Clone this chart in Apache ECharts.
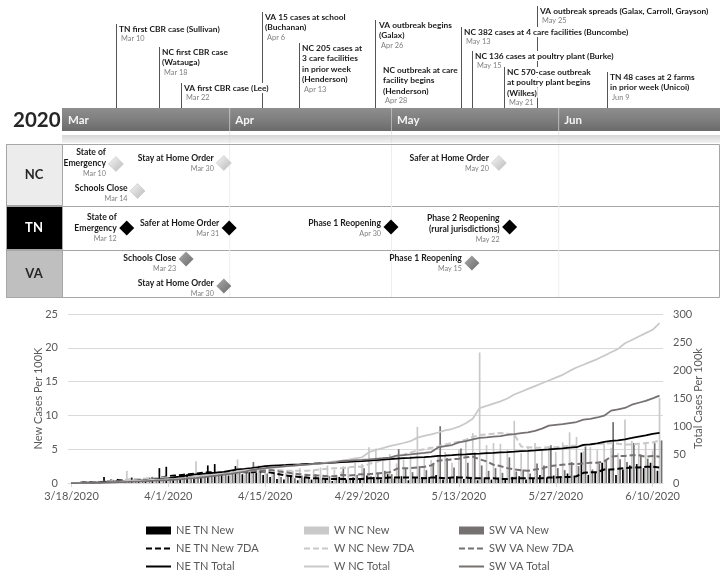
<!DOCTYPE html>
<html><head><meta charset="utf-8">
<script src="https://cdn.jsdelivr.net/npm/echarts@6/dist/echarts.min.js"></script>
<style>html,body{margin:0;padding:0;background:#fff}#c{width:728px;height:578px}</style>
</head><body><div id="c"></div>
<script>
// ---------------- DATA ----------------
const firstDay = '2020-03-18';
const dayCount = 86; // 3/18/2020 .. 6/11/2020

const neTnNew = [0,0.1,0.3,0,0.2,0.9,0.5,0.6,0.3,0.8,0.7,0.6,0.9,2.2,
  2.4,1.0,1.2,1.3,0.9,1.2,2.6,2.8,1.4,1.1,2.5,1.3,1.6,1.5,
  1.2,0.9,0.6,0.5,0.9,0.4,0.8,0.5,0.7,0.6,0.3,0.9,0.5,0.8,
  0.6,1.1,0.9,0.5,1.3,0.7,1.0,0.4,0.8,0.6,0.9,1.2,0.5,0.8,
  1.0,0.6,0.9,0.4,0.7,0.5,0.8,0.6,0.9,1.0,0.5,0.7,1.2,0.8,
  1.1,0.9,1.4,1.0,4.5,1.2,1.6,3.0,2.0,1.2,2.0,2.6,2.8,2.2,3.0,1.8];
const wNcNew = [0,0,0.1,0.2,0.3,0.4,0.5,0.3,1.8,0.6,0.4,0.7,0.9,0.5,
  0.8,0.6,1.0,0.7,3.2,1.1,0.9,1.3,1.6,1.4,3.5,1.2,1.5,2.6,
  1.6,1.3,2.0,1.5,1.8,2.2,1.4,1.9,2.3,2.6,2.0,1.7,2.4,3.0,
  2.8,5.3,5.1,3.6,4.3,2.9,3.5,4.0,8.3,3.8,3.4,4.1,4.6,3.0,
  5.0,6.1,7.4,19.3,5.6,5.9,5.8,4.9,9.2,4.4,5.2,5.9,4.8,5.4,
  4.6,6.0,7.5,6.8,4.7,5.3,4.9,5.9,5.2,4.4,9.4,6.2,5.6,5.9,4.8,12.6];
const swVaNew = [0,0,0,0.1,0.2,0.3,0.2,0.5,0.4,0.6,0.3,0.8,0.5,0.7,
  0.6,0.9,0.7,1.1,0.8,1.3,1.6,1.2,1.8,1.5,2.0,1.7,3.1,1.9,
  1.4,1.6,0.9,1.2,0.7,1.1,0.8,1.3,0.6,1.0,0.9,2.4,0.7,1.2,
  2.2,1.0,1.5,1.8,1.3,5.0,2.1,1.6,2.5,1.9,2.8,8.4,3.7,2.3,
  5.1,3.0,4.5,2.6,1.8,2.2,1.5,3.8,1.7,2.0,1.4,2.9,2.6,5.6,
  2.2,1.9,3.1,2.5,5.4,2.0,2.9,3.4,9.0,3.5,3.1,5.9,4.2,3.6,5.9,6.3];
const neTn7da = [0,0,0.1,0.1,0.1,0.2,0.3,0.4,0.4,0.5,0.5,0.6,0.6,0.8,
  1.0,1.1,1.2,1.3,1.4,1.5,1.6,1.5,1.5,1.6,1.7,1.6,1.6,1.7,
  1.7,1.5,1.3,1.1,1.0,0.9,0.8,0.7,0.7,0.6,0.6,0.6,0.6,0.6,
  0.6,0.7,0.7,0.7,0.8,0.8,0.8,0.8,0.8,0.7,0.8,0.8,0.7,0.8,
  0.8,0.8,0.7,0.7,0.7,0.7,0.6,0.6,0.7,0.7,0.7,0.7,0.7,0.8,
  0.8,0.9,0.9,1.0,1.5,1.6,1.6,2.0,2.0,2.1,2.2,2.3,2.3,2.4,2.4,2.3];
const wNc7da = [0,0,0.1,0.1,0.2,0.2,0.3,0.3,0.5,0.6,0.6,0.7,0.7,0.8,
  0.8,0.8,0.9,0.8,1.1,1.2,1.2,1.3,1.3,1.4,1.7,1.7,1.8,1.9,
  1.8,1.9,1.9,1.8,1.8,1.8,1.8,1.9,2.0,2.1,2.2,2.2,2.3,2.4,
  2.4,2.8,3.1,3.4,3.7,3.9,4.2,4.5,4.8,5.0,5.2,5.4,5.7,5.9,
  6.1,6.4,6.8,7.1,7.2,7.3,7.4,7.3,7.2,5.4,5.3,5.2,5.2,5.3,
  5.3,5.4,5.5,5.5,5.6,5.7,5.8,5.8,5.9,5.8,5.7,5.7,5.8,5.9,6.0,6.3];
const swVa7da = [0,0,0,0.1,0.1,0.1,0.2,0.2,0.3,0.3,0.4,0.4,0.5,0.5,
  0.6,0.7,0.7,0.8,0.9,1.0,1.1,1.2,1.3,1.5,1.6,1.7,1.8,1.9,
  1.9,1.9,1.7,1.6,1.4,1.3,1.2,1.1,1.1,1.0,1.0,1.2,1.1,1.2,
  1.3,1.3,1.4,1.5,1.6,2.1,2.2,2.2,2.3,2.4,2.6,3.3,3.4,3.5,
  3.6,3.8,3.9,3.5,3.2,2.7,2.5,2.2,2.0,1.9,1.8,2.0,2.1,2.5,
  2.6,2.7,2.8,2.8,2.9,3.0,3.0,3.2,3.9,4.0,4.0,4.1,4.1,3.9,4.0,3.9];
const neTnTotal = [0.2,0.3,0.7,0.7,0.9,1.8,2.3,2.9,3.2,3.9,4.7,5.3,6.3,7.2,
  8.2,10.5,11.6,13.9,15.1,16.2,17.5,18.4,19.7,22.1,24.2,25.0,26.4,28.0,
  29.8,30.9,31.5,32.0,32.8,33.2,34.0,34.5,35.2,35.8,36.1,36.9,37.4,38.2,
  38.8,39.9,40.8,41.3,42.5,43.2,44.2,44.6,45.4,46.0,46.9,48.1,48.6,49.4,
  50.4,51.0,51.8,52.2,52.9,53.4,54.2,54.8,55.6,56.5,57.0,57.7,58.8,59.5,
  60.5,61.3,62.6,63.5,67.6,68.7,70.2,72.9,74.7,75.8,77.6,80.0,82.5,84.5,87.2,88.8];
const wNcTotal = [0.1,0.2,0.3,0.5,0.8,1.2,1.7,2.0,3.6,4.1,4.5,5.1,5.9,6.3,
  7.0,7.5,8.4,9.0,12.1,13.1,13.9,15.1,16.5,17.8,21.2,22.3,23.7,24.8,
  26.0,27.0,28.2,29.3,30.5,31.6,32.4,33.5,35.0,36.6,38.2,39.6,41.5,43.8,
  45.6,54.5,58.8,62.0,65.6,68.0,71.0,74.2,80.5,83.6,86.3,89.6,93.4,95.8,
  100,106,114,133,137,141,145,150,157,162,167,172,177,182,
  187,192,199,205,210,215,220,226,232,238,248,254,260,266,272,284];
const swVaTotal = [0,0,0.1,0.2,0.4,0.7,0.9,1.4,1.8,2.4,2.7,3.5,4.0,4.7,
  5.3,6.2,6.9,8.0,8.8,10.1,11.7,12.9,14.7,16.2,18.2,19.9,23.0,24.9,
  26.3,27.9,28.8,30.0,30.7,31.8,32.6,33.9,34.5,35.5,36.4,38.8,39.5,40.7,
  41.0,41.8,42.9,44.0,45.2,48.5,49.6,50.8,52.3,53.6,55.0,63.2,65.5,67.4,
  72.0,74.2,77.5,80.0,81.0,82.3,83.4,85.6,86.8,88.4,89.7,92.6,96.5,101.8,
  103.2,104.5,106.4,108.2,112.5,114.0,116.3,119.5,128.5,130.8,133.2,139.0,142.5,145.7,150.3,155.0];

const leftTicks = {min:0, max:25, step:5};
const rightTicks = {min:0, max:300, step:50};

const timelineMonths = [['2020-03-01','2020-04-01','Mar'],['2020-04-01','2020-05-01','Apr'],
  ['2020-05-01','2020-06-01','May'],['2020-06-01','2020-07-01','Jun']];
const timelineYear = '2020';

// events above the timeline: position date, title lines, date label
const eventAt = ['2020-03-10','2020-03-18','2020-03-22','2020-04-06','2020-04-13','2020-04-27','2020-04-27',
  '2020-05-13','2020-05-15','2020-05-21','2020-05-27','2020-06-09'];
const eventTitles = [['TN first CBR case (Sullivan)'],['NC first CBR case','(Watauga)'],['VA first CBR case (Lee)'],
  ['VA 15 cases at school','(Buchanan)'],['NC 205 cases at','3 care facilities','in prior week','(Henderson)'],
  ['VA outbreak begins','(Galax)'],['NC outbreak at care','facility begins','(Henderson)'],
  ['NC 382 cases at 4 care facilities (Buncombe)'],['NC 136 cases at poultry plant (Burke)'],
  ['NC 570-case outbreak','at poultry plant begins','(Wilkes)'],['VA outbreak spreads (Galax, Carroll, Grayson)'],
  ['TN 48 cases at 2 farms','in prior week (Unicoi)']];
const eventLabels = ['Mar 10','Mar 18','Mar 22','Apr 6','Apr 13','Apr 26','Apr 28','May 13','May 15','May 21','May 25','Jun 9'];

// state milestones
const stateNames = ['NC','TN','VA'];
const msState = ['NC','NC','NC','NC','TN','TN','TN','TN','VA','VA','VA'];
const msAt = ['2020-03-10','2020-03-14','2020-03-30','2020-05-20','2020-03-12','2020-03-31','2020-04-30','2020-05-22',
  '2020-03-23','2020-03-30','2020-05-15'];
const msTitles = [['State of','Emergency'],['Schools Close'],['Stay at Home Order'],['Safer at Home Order'],
  ['State of','Emergency'],['Safer at Home Order'],['Phase 1 Reopening'],['Phase 2 Reopening','(rural jurisdictions)'],
  ['Schools Close'],['Stay at Home Order'],['Phase 1 Reopening']];
const msLabels = ['Mar 10','Mar 14','Mar 30','May 20','Mar 12','Mar 31','Apr 30','May 22','Mar 23','Mar 30','May 15'];

// ---------------- LAYOUT (pixels, not data) ----------------
const L = {
  tlLeft: 62, tlWidth: 658, barTop: 108, barH: 23, bandTop: 135, bandH: 8,
  rowsTop: 144, rowsBottom: 298, rowsLeft: 6, rowsRight: 720,
  rowTop: {NC:144, TN:206, VA:250}, rowBottom: {NC:206, TN:250, VA:298},
  eventY: [29,52,88,17,48,25,70,32,56,72,11,77],
  eventLine: [1,1,1,1,1,1,0,1,1,1,1,1],
  eventIndent: [3,3,3,3,3,4,8,3,3,3,3,3],
  msY: [164,191,163,163,228,228,227,227,259,286,263],
  msTextY: [152,188,158,158,217,223,223,218,258,283,258]
};
const FONT = 'Lato';

// ---------------- HELPERS ----------------
const DAY = 86400000;
const ts = s => { const p = s.split('-').map(Number); return Date.UTC(p[0], p[1]-1, p[2]); };
const endOfDay = s => ts(s) + DAY;
const days = [];
for (let i = 0; i < dayCount; i++) {
  const d = new Date(ts(firstDay) + i*DAY);
  days.push((d.getUTCMonth()+1) + '/' + d.getUTCDate() + '/' + d.getUTCFullYear());
}

const stateFill = {
  NC: () => new echarts.graphic.LinearGradient(0,0,1,1,[{offset:0,color:'#f7f7f7'},{offset:1,color:'#b8b8b8'}]),
  TN: () => '#000',
  VA: () => new echarts.graphic.LinearGradient(0,0,1,1,[{offset:0,color:'#ababab'},{offset:1,color:'#6a6a6a'}])
};
const cellFill = {NC:'#ececec', TN:'#000000', VA:'#bfbfbf'};
const cellText = {NC:'#262626', TN:'#ffffff', VA:'#262626'};

// ---------------- GRAPHIC (frame decoration) ----------------
const graphics = [];
graphics.push({type:'text', z:0, style:{x:13, y:120, text:timelineYear, fill:'#262626', font:'bold 20.5px ' + FONT, verticalAlign:'middle'}});
graphics.push({type:'rect', z:0, shape:{x:L.rowsLeft+0.5, y:L.rowsTop+0.5, width:L.rowsRight-L.rowsLeft-1, height:L.rowsBottom-L.rowsTop-1},
  style:{fill:'#fff', stroke:'#a6a6a6', lineWidth:1}});
stateNames.forEach(s => {
  const t = L.rowTop[s], b = L.rowBottom[s];
  graphics.push({type:'rect', z:0, shape:{x:L.rowsLeft+0.5, y:t+0.5, width:L.tlLeft-L.rowsLeft, height:b-t-1},
    style:{fill:cellFill[s], stroke:'#a6a6a6', lineWidth:1}});
  graphics.push({type:'text', z:1, style:{x:(L.rowsLeft+L.tlLeft)/2, y:(t+b)/2, text:s, fill:cellText[s],
    font:'bold 13px ' + FONT, align:'center', verticalAlign:'middle'}});
  if (s !== 'NC') graphics.push({type:'line', z:0, shape:{x1:L.rowsLeft, y1:t+0.5, x2:L.rowsRight, y2:t+0.5}, style:{stroke:'#a6a6a6', lineWidth:1}});
});

// ---------------- SERIES ----------------
const monthSeries = {
  type:'custom', xAxisIndex:0, yAxisIndex:0, silent:true, z:2,
  data: timelineMonths.map(m => [ts(m[0]), ts(m[1]), m[2]]),
  renderItem: (params, api) => {
    const m = timelineMonths[params.dataIndex];
    const s = api.coord([ts(m[0]), 0])[0];
    const e = api.coord([ts(m[1]), 0])[0];
    const ch = [
      {type:'rect', shape:{x:s, y:L.barTop, width:e-s, height:L.barH},
        style:{fill:new echarts.graphic.LinearGradient(0,0,0,1,[{offset:0,color:'#8e8e8e'},{offset:0.6,color:'#7b7b7b'},{offset:1,color:'#6a6a6a'}])}},
      {type:'rect', shape:{x:s, y:L.bandTop, width:e-s, height:L.bandH},
        style:{fill:new echarts.graphic.LinearGradient(0,0,0,1,[{offset:0,color:'#d6d6d6'},{offset:1,color:'#f2f2f2'}])}},
      {type:'text', style:{x:s+6, y:L.barTop+L.barH/2+1, text:m[2], fill:'#f4f4f4', font:'bold 11.5px ' + FONT, verticalAlign:'middle'}}
    ];
    if (params.dataIndex > 0) {
      ch.push({type:'line', shape:{x1:s+0.5, y1:L.barTop, x2:s+0.5, y2:L.bandTop+L.bandH}, style:{stroke:'rgba(215,215,215,0.6)', lineWidth:1}});
      ch.push({type:'line', shape:{x1:s+0.5, y1:L.rowsTop+1, x2:s+0.5, y2:L.rowsBottom-1}, style:{stroke:'#eeeeee', lineWidth:1}});
    }
    return {type:'group', children:ch};
  }
};

const eventLineSeries = {
  type:'custom', xAxisIndex:0, yAxisIndex:0, silent:true, z:2,
  data: eventAt.map((d,i) => [endOfDay(d), L.eventY[i]]),
  renderItem: (params, api) => {
    const i = params.dataIndex;
    if (!L.eventLine[i]) return {type:'group', children:[]};
    const p = api.coord([api.value(0), api.value(1)]);
    const x = Math.round(p[0]) + 0.5;
    return {type:'line', shape:{x1:x, y1:p[1]-5, x2:x, y2:L.barTop}, style:{stroke:'#555', lineWidth:1}};
  }
};

const eventTextSeries = {
  type:'custom', xAxisIndex:0, yAxisIndex:0, silent:true, z:3,
  data: eventAt.map((d,i) => [endOfDay(d), L.eventY[i]]),
  renderItem: (params, api) => {
    const i = params.dataIndex;
    const p = api.coord([api.value(0), api.value(1)]);
    const x = Math.round(p[0]) + L.eventIndent[i];
    const ch = [];
    const lines = eventTitles[i];
    lines.forEach((t, k) => {
      ch.push({type:'text', style:{x:x, y:p[1] + k*10.5, text:t, fill:'#1a1a1a', font:'bold 8.4px ' + FONT,
        verticalAlign:'middle', backgroundColor:'#fff', padding:[1,1,1,0]}});
    });
    ch.push({type:'text', style:{x:x+2, y:p[1] + lines.length*10.5 - 0.5, text:eventLabels[i], fill:'#7f7f7f', font:'7.4px ' + FONT,
      verticalAlign:'middle', backgroundColor:'#fff', padding:[0,1,0,0]}});
    return {type:'group', children:ch};
  }
};

const milestoneSeries = {
  type:'custom', xAxisIndex:0, yAxisIndex:0, silent:true, z:3,
  data: msAt.map((d,i) => [endOfDay(d), L.msY[i]]),
  renderItem: (params, api) => {
    const i = params.dataIndex;
    const p = api.coord([api.value(0), api.value(1)]);
    const x = p[0], y = p[1], r = 7.5;
    const ch = [{type:'polygon', shape:{points:[[x,y-r],[x+r,y],[x,y+r],[x-r,y]]},
      style:{fill:stateFill[msState[i]](), stroke: msState[i]==='NC' ? '#c4c4c4' : null, lineWidth:0.6}}];
    const lines = msTitles[i];
    const ty = L.msTextY[i];
    lines.forEach((t,k) => {
      ch.push({type:'text', style:{x:x-10, y:ty + k*11.5, text:t, fill:'#1a1a1a', font:'bold 8.6px ' + FONT,
        align:'right', verticalAlign:'middle'}});
    });
    ch.push({type:'text', style:{x:x-10, y:ty + (lines.length-1)*11.5 + 10.5, text:msLabels[i], fill:'#808080',
      font:'7.2px ' + FONT, align:'right', verticalAlign:'middle'}});
    return {type:'group', children:ch};
  }
};

const C = {tn:'#000000', nc:'#c9c9c9', va:'#767171'};
const barBase = {type:'bar', xAxisIndex:1, yAxisIndex:1, barWidth:1.7, barGap:'20%', z:2, silent:true};
const lineBase = {type:'line', xAxisIndex:1, symbol:'none', showSymbol:false, z:4, silent:true};
const dash = [6,3];

const chartSeries = [
  Object.assign({}, barBase, {name:'NE TN New', data:neTnNew, itemStyle:{color:C.tn}}),
  Object.assign({}, barBase, {name:'W NC New', data:wNcNew, itemStyle:{color:C.nc}}),
  Object.assign({}, barBase, {name:'SW VA New', data:swVaNew, itemStyle:{color:C.va}}),
  Object.assign({}, lineBase, {name:'NE TN New 7DA', yAxisIndex:1, data:neTn7da, itemStyle:{color:C.tn}, lineStyle:{color:C.tn, width:2, type:dash}}),
  Object.assign({}, lineBase, {name:'W NC New 7DA', yAxisIndex:1, data:wNc7da, itemStyle:{color:C.nc}, lineStyle:{color:C.nc, width:2, type:dash}}),
  Object.assign({}, lineBase, {name:'SW VA New 7DA', yAxisIndex:1, data:swVa7da, itemStyle:{color:C.va}, lineStyle:{color:C.va, width:2, type:dash}}),
  Object.assign({}, lineBase, {name:'NE TN Total', yAxisIndex:2, data:neTnTotal, itemStyle:{color:C.tn}, lineStyle:{color:C.tn, width:1.75}}),
  Object.assign({}, lineBase, {name:'W NC Total', yAxisIndex:2, data:wNcTotal, itemStyle:{color:C.nc}, lineStyle:{color:C.nc, width:1.75}}),
  Object.assign({}, lineBase, {name:'SW VA Total', yAxisIndex:2, data:swVaTotal, itemStyle:{color:C.va}, lineStyle:{color:C.va, width:1.75}})
];

const noSym = {color:'rgba(0,0,0,0)', borderColor:'rgba(0,0,0,0)', borderWidth:0, opacity:0};
const legendBase = {orient:'vertical', top:525, padding:0, itemWidth:25, itemHeight:8, itemGap:7, selectedMode:false,
  textStyle:{color:'#595959', fontSize:11, fontFamily:FONT}};
const legendItems = names => [{name:names[0], icon:'rect'}, {name:names[1], itemStyle:noSym}, {name:names[2], itemStyle:noSym}];
const axisText = {color:'#595959', fontSize:11, fontFamily:FONT};

const option = {
  animation:false,
  textStyle:{fontFamily:FONT},
  graphic:{elements:graphics},
  grid:[
    {left:L.tlLeft, top:0, width:L.tlWidth, height:L.rowsBottom},
    {left:68, right:65, top:314, bottom:95}
  ],
  xAxis:[
    {type:'time', gridIndex:0, min:ts(timelineMonths[0][0]), max:ts(timelineMonths[timelineMonths.length-1][1]), show:false},
    {type:'category', gridIndex:1, data:days, boundaryGap:true,
      axisLine:{show:true, lineStyle:{color:'#d9d9d9'}},
      axisTick:{show:true, alignWithLabel:true, interval:13, length:4, lineStyle:{color:'#d9d9d9'}},
      axisLabel:Object.assign({interval:13, margin:8}, axisText)}
  ],
  yAxis:[
    {type:'value', gridIndex:0, min:0, max:L.rowsBottom, inverse:true, show:false},
    {type:'value', gridIndex:1, position:'left', min:leftTicks.min, max:leftTicks.max, interval:leftTicks.step,
      axisLine:{show:false}, axisTick:{show:false}, axisLabel:Object.assign({margin:10}, axisText),
      splitLine:{lineStyle:{color:'#d9d9d9'}},
      name:'New Cases Per 100K', nameLocation:'middle', nameRotate:90, nameGap:24, nameMoveOverlap:false, nameTextStyle:axisText},
    {type:'value', gridIndex:1, position:'right', min:rightTicks.min, max:rightTicks.max, interval:rightTicks.step,
      axisLine:{show:false}, axisTick:{show:false}, axisLabel:Object.assign({margin:10}, axisText),
      splitLine:{show:false},
      name:'Total Cases Per 100k', nameLocation:'middle', nameRotate:90, nameGap:30, nameMoveOverlap:false, nameTextStyle:axisText}
  ],
  legend:[
    Object.assign({}, legendBase, {left:145, data:legendItems(['NE TN New','NE TN New 7DA','NE TN Total'])}),
    Object.assign({}, legendBase, {left:303, data:legendItems(['W NC New','W NC New 7DA','W NC Total'])}),
    Object.assign({}, legendBase, {left:458, data:legendItems(['SW VA New','SW VA New 7DA','SW VA Total'])})
  ],
  series:[monthSeries, eventLineSeries, eventTextSeries, milestoneSeries].concat(chartSeries)
};

const chart = echarts.init(document.getElementById('c'), null, {renderer:'canvas'});
chart.setOption(option);
</script>
</body></html>
